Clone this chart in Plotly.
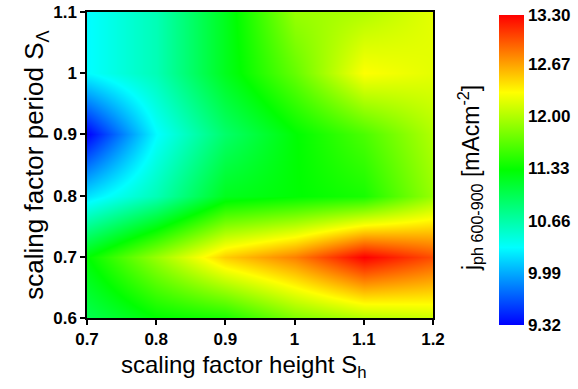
import plotly.graph_objects as go

x_vals = [0.7, 0.8, 0.9, 1.0, 1.1, 1.2]
y_vals = [0.6, 0.7, 0.8, 0.9, 1.0, 1.1]
x_labels = ["0.7", "0.8", "0.9", "1", "1.1", "1.2"]
y_labels = ["0.6", "0.7", "0.8", "0.9", "1", "1.1"]
# rows: y = 0.6 ... 1.1 ; columns: x = 0.7 ... 1.2
z_vals = [
    [11.0, 11.3, 11.4, 11.8, 12.0, 12.1],
    [11.3, 11.9, 12.5, 12.8, 13.3, 13.0],
    [10.2, 10.6, 11.2, 11.3, 11.4, 11.9],
    [9.32, 10.3, 10.9, 11.3, 11.6, 12.0],
    [10.3, 10.6, 11.2, 11.7, 12.3, 12.2],
    [10.3, 10.6, 11.2, 11.9, 12.0, 12.2],
]
cb_ticks = [9.32, 9.99, 10.66, 11.33, 12.00, 12.67, 13.30]
cb_text = ["9.32", "9.99", "10.66", "11.33", "12.00", "12.67", "13.30"]

jet = [[0.0, "rgb(0,0,255)"], [0.25, "rgb(0,255,255)"], [0.5, "rgb(0,255,0)"],
       [0.75, "rgb(255,255,0)"], [1.0, "rgb(255,0,0)"]]

fnt = "Liberation Sans, Arial, sans-serif"
bold = lambda s: "<b>" + s + "</b>"

L, R, T, B = 87, 433, 12, 318
PW, PH = R - L, B - T

fig = go.Figure(go.Heatmap(
    x=x_vals, y=y_vals, z=z_vals, zsmooth="best", colorscale=jet,
    zmin=9.32, zmax=13.30,
    colorbar=dict(
        x=(499 - L) / PW, xanchor="left", xpad=0, ypad=0,
        y=(B - 170) / PH, yanchor="middle", lenmode="pixels", len=310,
        thicknessmode="pixels", thickness=25, outlinewidth=0,
        tickmode="array", tickvals=cb_ticks, ticktext=[bold(t) for t in cb_text],
        ticks="", ticklabelposition="outside",
        tickfont=dict(family=fnt, size=17, color="black"),
    ),
))

fig.update_layout(
    width=578, height=389,
    margin=dict(l=L, r=578 - R, t=T, b=389 - B, autoexpand=False),
    paper_bgcolor="white", plot_bgcolor="white",
    font=dict(family=fnt, color="black", size=17),
    xaxis=dict(range=[0.7, 1.2], tickmode="array", tickvals=x_vals, ticktext=[bold(t) for t in x_labels],
               ticks="outside", ticklen=5, tickwidth=1.5, tickcolor="black",
               showline=True, linecolor="black", linewidth=1.5, mirror=True,
               showgrid=False, zeroline=False,
               tickfont=dict(family=fnt, size=17, color="black")),
    yaxis=dict(range=[0.6, 1.1], tickmode="array", tickvals=y_vals, ticktext=[bold(t) for t in y_labels],
               ticks="outside", ticklen=5, tickwidth=1.5, tickcolor="black",
               showline=True, linecolor="black", linewidth=1.5, mirror=True,
               showgrid=False, zeroline=False,
               tickfont=dict(family=fnt, size=17, color="black"),
               title=dict(text="scaling factor period S<sub>Λ</sub>", font=dict(family=fnt, size=26), standoff=2)),
    annotations=[
        dict(text="scaling factor height S<sub>h</sub>",
             xref="paper", yref="paper", x=(243 - L) / PW, y=(B - 349) / PH,
             xanchor="center", yanchor="top", showarrow=False,
             font=dict(family=fnt, size=24, color="black")),
        dict(text="j<sub>ph 600-900</sub> [mAcm<sup>-2</sup>]",
             xref="paper", yref="paper", x=(470 - L) / PW, y=(B - 178) / PH,
             xanchor="center", yanchor="middle", textangle=-90, showarrow=False,
             font=dict(family=fnt, size=23, color="black")),
    ],
)

fig.write_html("out.html", config={"displayModeBar": False},
               post_script="document.body.style.margin='0';")
